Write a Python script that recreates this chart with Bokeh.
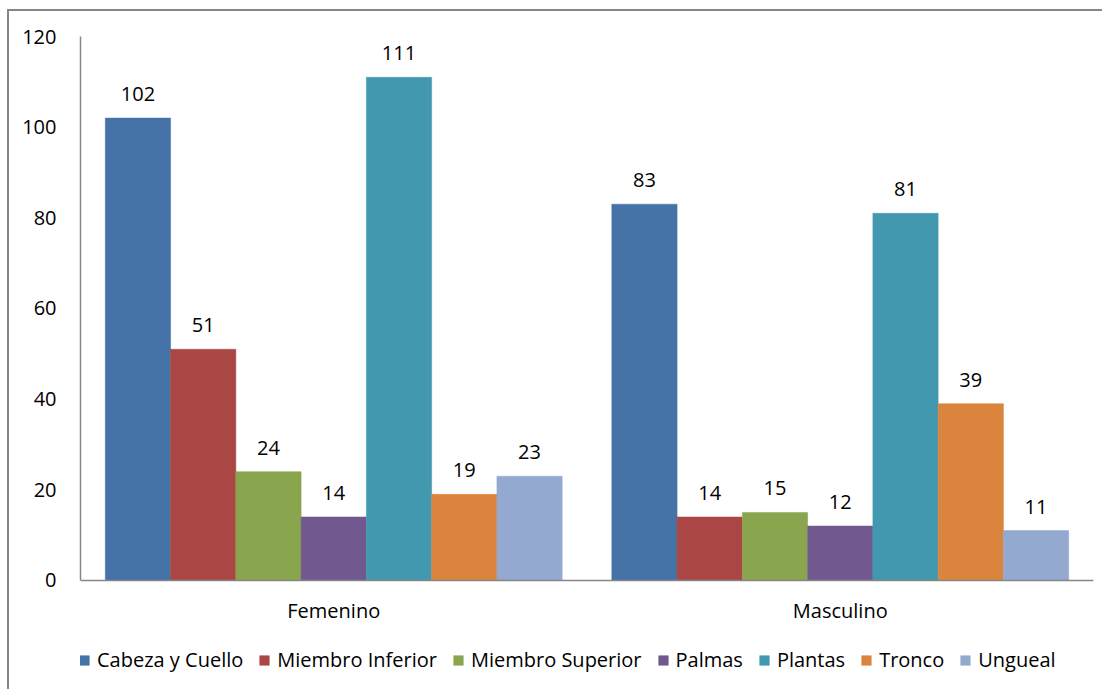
from bokeh.plotting import figure
from bokeh.models import ColumnDataSource, FactorRange, Legend, LegendItem, Range1d, Span
from bokeh.transform import dodge
from bokeh.core.properties import value
from bokeh.embed import file_html
from bokeh.resources import INLINE

# Lesion counts by body location, split by sex
categories = ["Femenino", "Masculino"]
series = ["Cabeza y Cuello", "Miembro Inferior", "Miembro Superior", "Palmas",
          "Plantas", "Tronco", "Ungueal"]
cabeza_y_cuello = [102, 83]
miembro_inferior = [51, 14]
miembro_superior = [24, 15]
palmas = [14, 12]
plantas = [111, 81]
tronco = [19, 39]
ungueal = [23, 11]
y_ticks = [0, 20, 40, 60, 80, 100, 120]

values = [cabeza_y_cuello, miembro_inferior, miembro_superior, palmas,
          plantas, tronco, ungueal]
colors = ["#4572A7", "#AA4643", "#89A54E", "#71588F", "#4198AF", "#DB843D", "#93A9CF"]

FONT = "Open Sans"
TEXT_SIZE = "20px"
GRAY = "#868686"

# the frame reaches down to the bottom edge so the legend can sit inside it;
# the value axis itself only covers 0..120
p = figure(
    x_range=FactorRange(*categories, range_padding=0),
    y_range=Range1d(-24.5, 120),
    width=1095, height=680,
    output_backend="svg", toolbar_location=None, tools="",
    min_border_left=71, min_border_right=11, min_border_top=25, min_border_bottom=0,
    margin=(9, 0, 0, 7),
    styles={"border-left": f"2px solid {GRAY}", "border-top": f"2px solid {GRAY}"},
)
p.outline_line_color = None
p.grid.grid_line_color = None
p.background_fill_color = "white"
p.border_fill_color = "white"

group_width = 0.902
bar_w = group_width / len(series)

items = []
for i, (name, vals, col) in enumerate(zip(series, values, colors)):
    src = ColumnDataSource(dict(cat=categories, val=vals, lab=[str(v) for v in vals]))
    off = (i - (len(series) - 1) / 2) * bar_w
    r = p.vbar(x=dodge("cat", off, range=p.x_range), top="val", width=bar_w,
               source=src, fill_color=col, line_color=col, line_width=0.5)
    p.text(x=dodge("cat", off, range=p.x_range), y="val", text="lab", source=src,
           text_align="center", text_baseline="bottom", y_offset=-17,
           text_font=value(FONT), text_font_size=TEXT_SIZE, text_color="#000000")
    items.append(LegendItem(label=name, renderers=[r]))

# category axis: baseline at zero plus the category names under it
p.xaxis.visible = False
p.add_layout(Span(location=0, dimension="width", line_color=GRAY, line_width=1.5))
p.text(x=categories, y=[0] * len(categories), text=categories,
       text_align="center", text_baseline="top", y_offset=17,
       text_font=value(FONT), text_font_size=TEXT_SIZE, text_color="#000000")

# value axis
yax = p.yaxis[0]
yax.ticker = y_ticks
yax.bounds = (0, 120)
yax.axis_line_color = GRAY
yax.axis_line_width = 1.5
yax.major_tick_line_color = None
yax.minor_tick_line_color = None
yax.major_label_text_font = FONT
yax.major_label_text_font_size = TEXT_SIZE
yax.major_label_text_color = "#000000"
yax.major_label_standoff = 18

legend = Legend(
    items=items, orientation="horizontal", location=(-2, 18),
    glyph_width=12, glyph_height=12, label_standoff=7, spacing=15,
    padding=0, margin=0, border_line_color=None, background_fill_alpha=0,
    label_text_font=FONT, label_text_font_size=TEXT_SIZE, label_text_color="#000000",
)
p.add_layout(legend, "center")

open("out.html", "w").write(file_html(p, INLINE))
